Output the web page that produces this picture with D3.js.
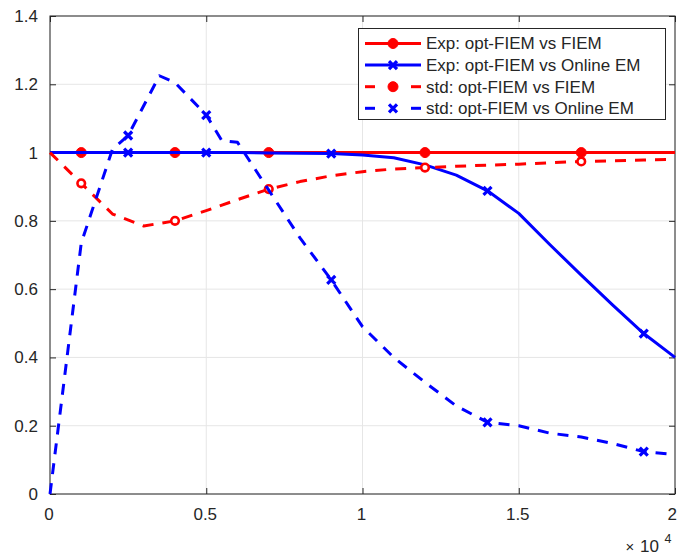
<!DOCTYPE html>
<html><head><meta charset="utf-8">
<script src="https://cdn.jsdelivr.net/npm/d3@7"></script>
<style>body{margin:0;background:#fff}svg{display:block}text{font-family:"Liberation Sans",Arial,Helvetica,sans-serif;fill:#262626}</style>
</head><body>
<svg id="chart" width="678" height="559"></svg>
<script>
// ---- data ----
const xTicks = [0, 5000, 10000, 15000, 20000];
const xTickLabels = ["0", "0.5", "1", "1.5", "2"];
const yTicks = [0, 0.2, 0.4, 0.6, 0.8, 1, 1.2, 1.4];
const yTickLabels = ["0", "0.2", "0.4", "0.6", "0.8", "1", "1.2", "1.4"];
const seriesNames = ["Exp: opt-FIEM vs FIEM", "Exp: opt-FIEM vs Online EM", "std: opt-FIEM vs FIEM", "std: opt-FIEM vs Online EM"];

const expFiemX = [0, 1000, 4000, 7000, 12000, 17000, 20000];
const expFiemY = [1, 1, 1, 1, 1, 1, 1];
const expFiemMarkX = [1000, 4000, 7000, 12000, 17000];
const expFiemMarkY = [1, 1, 1, 1, 1];

const expOnlineX = [0,1000,2000,3000,4000,5000,6000,7000,8000,9000,10000,11000,12000,13000,14000,15000,16000,17000,18000,19000,20000];
const expOnlineY = [1,1,1,1,1,1,1,0.999,0.998,0.997,0.993,0.985,0.964,0.934,0.888,0.822,0.73,0.641,0.554,0.47,0.40];
const expOnlineMarkX = [2500, 5000, 9000, 14000, 19000];
const expOnlineMarkY = [1, 1, 0.997, 0.888, 0.47];

const stdFiemX = [0,1000,2000,3000,4000,5000,6000,7000,8000,9000,10000,11000,12000,13000,14000,15000,16000,17000,18000,19000,20000];
const stdFiemY = [1,0.91,0.82,0.785,0.80,0.83,0.862,0.893,0.915,0.932,0.944,0.952,0.956,0.96,0.963,0.966,0.97,0.974,0.976,0.978,0.98];
const stdFiemMarkX = [1000, 4000, 7000, 12000, 17000];
const stdFiemMarkY = [0.91, 0.80, 0.893, 0.956, 0.974];

const stdOnlineX = [0,1000,2000,2500,3500,4000,5000,5500,6000,7000,8000,9000,10000,11000,12000,13000,14000,15000,16000,17000,18000,19000,20000];
const stdOnlineY = [0,0.735,1.01,1.05,1.225,1.205,1.11,1.035,1.03,0.89,0.75,0.627,0.49,0.40,0.327,0.258,0.21,0.20,0.178,0.167,0.148,0.124,0.116];
const stdOnlineMarkX = [2500, 5000, 9000, 14000, 19000];
const stdOnlineMarkY = [1.05, 1.11, 0.627, 0.21, 0.124];

// ---- layout ----
const L = 50, R = 675, T = 16, B = 494;
const x = d3.scaleLinear().domain([0, 20000]).range([L, R]);
const y = d3.scaleLinear().domain([0, 1.4]).range([B, T]);
const svg = d3.select("#chart");
const axisColor = "#262626";
const red = "#ff0000", blue = "#0000ff";
const DASH = "11,9";
const FS = "17px";

// grid
const g = svg.append("g");
g.selectAll(".gx").data(xTicks).enter().append("line")
  .attr("x1", d => x(d)).attr("x2", d => x(d)).attr("y1", T).attr("y2", B)
  .attr("stroke", "#e6e6e6").attr("stroke-width", 1);
g.selectAll(".gy").data(yTicks).enter().append("line")
  .attr("y1", d => y(d)).attr("y2", d => y(d)).attr("x1", L).attr("x2", R)
  .attr("stroke", "#e6e6e6").attr("stroke-width", 1);

// axes with inward ticks
const tl = 6;
const axB = d3.axisBottom(x).tickValues(xTicks).tickSize(-tl).tickPadding(14).tickFormat((d, i) => xTickLabels[i]);
const axT = d3.axisTop(x).tickValues(xTicks).tickSize(-tl).tickFormat("");
const axL = d3.axisLeft(y).tickValues(yTicks).tickSize(-tl).tickPadding(12).tickFormat((d, i) => yTickLabels[i]);
const axR = d3.axisRight(y).tickValues(yTicks).tickSize(-tl).tickFormat("");
function styleAxis(sel) {
  sel.select(".domain").attr("stroke", axisColor).attr("stroke-width", 1);
  sel.selectAll(".tick line").attr("stroke", axisColor);
  sel.selectAll(".tick text").attr("fill", axisColor).style("font-size", FS)
     .style("font-family", '"Liberation Sans",Arial,sans-serif');
}
const gB = svg.append("g").attr("transform", `translate(0,${B})`).call(axB).call(styleAxis);
gB.selectAll(".tick text").filter((d, i) => i === xTicks.length - 1).attr("text-anchor", "end").attr("x", 3);
gB.selectAll(".tick text").attr("dx", "-1.5");
svg.append("g").attr("transform", `translate(0,${T})`).call(axT).call(styleAxis);
svg.append("g").attr("transform", `translate(${L},0)`).call(axL).call(styleAxis);
svg.append("g").attr("transform", `translate(${R},0)`).call(axR).call(styleAxis);
svg.selectAll(".domain").attr("d", null);
svg.append("rect").attr("x", L).attr("y", T).attr("width", R - L).attr("height", B - T)
  .attr("fill", "none").attr("stroke", axisColor).attr("stroke-width", 1);

// exponent label
svg.append("text").attr("x", 625.5).attr("y", 552).style("font-size", "15px").text("\u00d7");
svg.append("text").attr("x", 640).attr("y", 552).style("font-size", FS).text("10");
svg.append("text").attr("x", 664.5).attr("y", 543).style("font-size", "12.5px").text("4");

// lines
const line = d3.line().x(d => x(d[0])).y(d => y(d[1]));
const zip = (a, b) => a.map((v, i) => [v, b[i]]);
const plotArea = svg.append("g");
function drawSeries(xs, ys, mx, my, color, dashed, marker) {
  plotArea.append("path").datum(zip(xs, ys)).attr("d", line)
    .attr("fill", "none").attr("stroke", color).attr("stroke-width", 3)
    .attr("stroke-dasharray", dashed ? DASH : null).attr("stroke-linejoin", "round");
  const pts = zip(mx, my);
  drawMarkers(plotArea, pts.map(p => [x(p[0]), y(p[1])]), color, marker);
}
function drawMarkers(sel, pts, color, marker) {
  pts.forEach(([px, py]) => {
    if (marker === "dot") {
      sel.append("circle").attr("cx", px).attr("cy", py).attr("r", 5).attr("fill", color).attr("stroke", color).attr("stroke-width", 1);
    } else if (marker === "ring") {
      sel.append("circle").attr("cx", px).attr("cy", py).attr("r", 3.8).attr("fill", "#fff").attr("stroke", color).attr("stroke-width", 2.6);
    } else {
      const s = 4;
      sel.append("path").attr("d", `M${px - s},${py - s}L${px + s},${py + s}M${px - s},${py + s}L${px + s},${py - s}`)
        .attr("stroke", color).attr("stroke-width", 3.2).attr("fill", "none");
    }
  });
}
drawSeries(expFiemX, expFiemY, expFiemMarkX, expFiemMarkY, red, false, "dot");
drawSeries(expOnlineX, expOnlineY, expOnlineMarkX, expOnlineMarkY, blue, false, "x");
drawSeries(stdFiemX, stdFiemY, stdFiemMarkX, stdFiemMarkY, red, true, "ring");
drawSeries(stdOnlineX, stdOnlineY, stdOnlineMarkX, stdOnlineMarkY, blue, true, "x");

// legend
const lg = svg.append("g");
lg.append("rect").attr("x", 358.5).attr("y", 28.5).attr("width", 307).attr("height", 91)
  .attr("fill", "#fff").attr("stroke", axisColor).attr("stroke-width", 1);
const legendColors = [red, blue, red, blue];
const legendDashed = [false, false, true, true];
const legendMarkers = ["dot", "x", "dot", "x"];
seriesNames.forEach((name, i) => {
  const cy = 43.5 + i * 21.6;
  if (legendDashed[i]) {
    lg.append("line").attr("x1", 365).attr("x2", 375).attr("y1", cy).attr("y2", cy).attr("stroke", legendColors[i]).attr("stroke-width", 3);
    lg.append("line").attr("x1", 411).attr("x2", 421).attr("y1", cy).attr("y2", cy).attr("stroke", legendColors[i]).attr("stroke-width", 3);
  } else {
    lg.append("line").attr("x1", 365).attr("x2", 421).attr("y1", cy).attr("y2", cy).attr("stroke", legendColors[i]).attr("stroke-width", 3);
  }
  drawMarkers(lg, [[393, cy]], legendColors[i], legendMarkers[i]);
  lg.append("text").attr("x", 426).attr("y", cy).attr("dy", "0.35em").style("font-size", FS).text(name);
});
</script>
</body></html>
